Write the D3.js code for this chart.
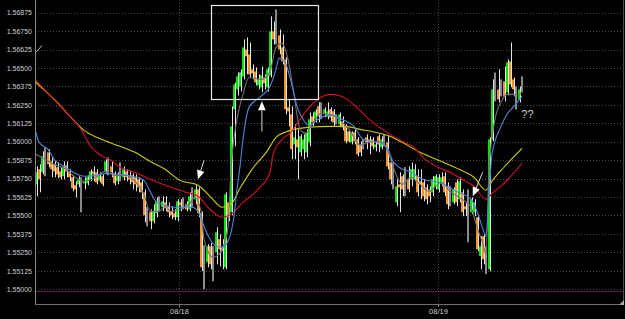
<!DOCTYPE html>
<html>
<head>
<meta charset="utf-8">
<script src="https://cdn.jsdelivr.net/npm/d3@7"></script>
<style>
  body { margin: 0; background: #000; }
  svg { display: block; }
</style>
</head>
<body>
<script>
// 15 min bars, index 0 = first bar on screen
const barOpen = [
  1.55711, 1.55813, 1.55793, 1.55874, 1.55928, 1.55867, 1.55847, 1.55827, 1.55799, 1.55766,
  1.55840, 1.55799, 1.55759, 1.55705, 1.55711, 1.55711, 1.55718, 1.55718, 1.55745, 1.55799,
  1.55793, 1.55738, 1.55766, 1.55793, 1.55847, 1.55833, 1.55786, 1.55732, 1.55772, 1.55759,
  1.55799, 1.55759, 1.55772, 1.55759, 1.55745, 1.55725, 1.55657, 1.55522, 1.55522, 1.55461,
  1.55515, 1.55583, 1.55556, 1.55589, 1.55562, 1.55528, 1.55515, 1.55488, 1.55589, 1.55569,
  1.55576, 1.55542, 1.55630, 1.55610, 1.55677, 1.55515, 1.55190, 1.55183, 1.55291, 1.55190,
  1.55251, 1.55339, 1.55285, 1.55149, 1.55589, 1.55522, 1.56220, 1.56355, 1.56375, 1.56443,
  1.56626, 1.56592, 1.56491, 1.56477, 1.56382, 1.56369, 1.56436, 1.56369, 1.56450, 1.56748,
  1.56701, 1.56721, 1.56640, 1.56558, 1.56233, 1.56186, 1.55982, 1.56016, 1.55928, 1.55949,
  1.55928, 1.55996, 1.56172, 1.56152, 1.56240, 1.56206, 1.56192, 1.56172, 1.56220, 1.56206,
  1.56165, 1.56118, 1.56138, 1.56104, 1.56070, 1.55996, 1.56064, 1.56016, 1.55982, 1.55982,
  1.56030, 1.56016, 1.56016, 1.55962, 1.56037, 1.55962, 1.56023, 1.55996, 1.55860, 1.55779,
  1.55589, 1.55711, 1.55766, 1.55779, 1.55745, 1.55745, 1.55745, 1.55766, 1.55732, 1.55725,
  1.55691, 1.55677, 1.55657, 1.55698, 1.55677, 1.55725, 1.55766, 1.55698, 1.55617, 1.55589,
  1.55725, 1.55610, 1.55657, 1.55562, 1.55535, 1.55522, 1.55522, 1.55488, 1.55224, 1.55359,
  1.55224, 1.55135, 1.56016, 1.56335, 1.56355, 1.56362, 1.56409, 1.56335, 1.56545, 1.56423,
  1.56341, 1.56287, 1.56416
];
const barHigh = [
  1.55833, 1.55847, 1.55935, 1.55962, 1.55949, 1.55894, 1.55867, 1.55860, 1.55827, 1.55867,
  1.55867, 1.55813, 1.55772, 1.55732, 1.55766, 1.55759, 1.55759, 1.55772, 1.55813, 1.55833,
  1.55813, 1.55793, 1.55779, 1.55881, 1.55894, 1.55867, 1.55799, 1.55793, 1.55860, 1.55833,
  1.55813, 1.55799, 1.55786, 1.55779, 1.55759, 1.55745, 1.55677, 1.55556, 1.55542, 1.55576,
  1.55623, 1.55630, 1.55630, 1.55630, 1.55589, 1.55562, 1.55542, 1.55610, 1.55610, 1.55623,
  1.55596, 1.55657, 1.55691, 1.55705, 1.55691, 1.55528, 1.55298, 1.55305, 1.55312, 1.55291,
  1.55420, 1.55373, 1.55339, 1.55657, 1.55610, 1.56240, 1.56402, 1.56470, 1.56491, 1.56694,
  1.56707, 1.56673, 1.56524, 1.56504, 1.56457, 1.56511, 1.56457, 1.56504, 1.56850, 1.56816,
  1.56897, 1.56762, 1.56728, 1.56572, 1.56287, 1.56240, 1.56118, 1.56084, 1.56050, 1.56050,
  1.56084, 1.56199, 1.56199, 1.56220, 1.56267, 1.56267, 1.56233, 1.56267, 1.56233, 1.56220,
  1.56186, 1.56199, 1.56172, 1.56118, 1.56084, 1.56070, 1.56084, 1.56030, 1.56003, 1.56016,
  1.56050, 1.56037, 1.56030, 1.56003, 1.56050, 1.56037, 1.56050, 1.56037, 1.55881, 1.55860,
  1.55745, 1.55793, 1.55779, 1.55827, 1.55833, 1.55860, 1.55847, 1.55813, 1.55813, 1.55745,
  1.55711, 1.55698, 1.55766, 1.55779, 1.55779, 1.55793, 1.55793, 1.55725, 1.55698, 1.55691,
  1.55745, 1.55759, 1.55677, 1.55589, 1.55677, 1.55623, 1.55610, 1.55508, 1.55359, 1.55373,
  1.55291, 1.56030, 1.56423, 1.56470, 1.56491, 1.56423, 1.56511, 1.56558, 1.56673, 1.56436,
  1.56375, 1.56375, 1.56443
];
const barLow = [
  1.55630, 1.55657, 1.55779, 1.55766, 1.55827, 1.55759, 1.55759, 1.55752, 1.55745, 1.55745,
  1.55759, 1.55732, 1.55664, 1.55623, 1.55691, 1.55522, 1.55677, 1.55705, 1.55732, 1.55732,
  1.55711, 1.55725, 1.55698, 1.55779, 1.55772, 1.55759, 1.55705, 1.55711, 1.55732, 1.55738,
  1.55732, 1.55711, 1.55677, 1.55664, 1.55657, 1.55610, 1.55454, 1.55427, 1.55407, 1.55447,
  1.55488, 1.55528, 1.55528, 1.55528, 1.55488, 1.55474, 1.55467, 1.55461, 1.55528, 1.55542,
  1.55528, 1.55528, 1.55556, 1.55576, 1.55488, 1.55122, 1.55000, 1.55149, 1.55135, 1.55054,
  1.55169, 1.55156, 1.55135, 1.55135, 1.55461, 1.55501, 1.55969, 1.56314, 1.56341, 1.56423,
  1.56457, 1.56436, 1.56423, 1.56382, 1.56355, 1.56335, 1.56355, 1.56341, 1.56436, 1.56660,
  1.56660, 1.56592, 1.56524, 1.56186, 1.56104, 1.55881, 1.55881, 1.55745, 1.55901, 1.55881,
  1.55894, 1.55969, 1.56104, 1.56131, 1.56131, 1.56152, 1.56165, 1.56152, 1.56138, 1.56104,
  1.56118, 1.56098, 1.56077, 1.55989, 1.55996, 1.55982, 1.55982, 1.55901, 1.55901, 1.55949,
  1.55949, 1.55915, 1.55949, 1.55935, 1.55928, 1.55949, 1.55969, 1.55813, 1.55711, 1.55677,
  1.55562, 1.55522, 1.55630, 1.55630, 1.55657, 1.55698, 1.55732, 1.55630, 1.55610, 1.55596,
  1.55576, 1.55589, 1.55630, 1.55677, 1.55657, 1.55698, 1.55630, 1.55542, 1.55562, 1.55576,
  1.55562, 1.55589, 1.55495, 1.55495, 1.55318, 1.55508, 1.55495, 1.55257, 1.55135, 1.55169,
  1.55102, 1.55122, 1.56003, 1.56274, 1.56267, 1.56308, 1.56274, 1.56314, 1.56369, 1.56308,
  1.56220, 1.56267, 1.56335
];
const barClose = [
  1.55793, 1.55745, 1.55901, 1.55874, 1.55847, 1.55813, 1.55799, 1.55779, 1.55759, 1.55833,
  1.55799, 1.55759, 1.55684, 1.55677, 1.55745, 1.55711, 1.55732, 1.55759, 1.55799, 1.55779,
  1.55725, 1.55772, 1.55711, 1.55867, 1.55847, 1.55793, 1.55718, 1.55766, 1.55772, 1.55813,
  1.55759, 1.55745, 1.55725, 1.55711, 1.55691, 1.55657, 1.55501, 1.55522, 1.55461, 1.55528,
  1.55596, 1.55583, 1.55596, 1.55549, 1.55522, 1.55501, 1.55488, 1.55596, 1.55569, 1.55569,
  1.55542, 1.55630, 1.55630, 1.55677, 1.55515, 1.55149, 1.55190, 1.55291, 1.55169, 1.55190,
  1.55386, 1.55271, 1.55257, 1.55644, 1.55488, 1.56104, 1.56389, 1.56443, 1.56470, 1.56640,
  1.56579, 1.56457, 1.56463, 1.56402, 1.56423, 1.56450, 1.56396, 1.56491, 1.56748, 1.56694,
  1.56701, 1.56626, 1.56545, 1.56220, 1.56206, 1.55949, 1.56030, 1.55962, 1.56037, 1.56016,
  1.56064, 1.56152, 1.56131, 1.56206, 1.56172, 1.56206, 1.56220, 1.56206, 1.56165, 1.56131,
  1.56165, 1.56186, 1.56098, 1.56003, 1.56003, 1.56064, 1.56003, 1.55915, 1.55928, 1.55982,
  1.55996, 1.55996, 1.55969, 1.55982, 1.55982, 1.56016, 1.56023, 1.55833, 1.55745, 1.55779,
  1.55698, 1.55691, 1.55677, 1.55779, 1.55677, 1.55813, 1.55813, 1.55657, 1.55711, 1.55630,
  1.55610, 1.55630, 1.55745, 1.55766, 1.55759, 1.55759, 1.55657, 1.55576, 1.55617, 1.55677,
  1.55589, 1.55732, 1.55522, 1.55542, 1.55535, 1.55610, 1.55589, 1.55271, 1.55291, 1.55203,
  1.55224, 1.56016, 1.56355, 1.56335, 1.56287, 1.56362, 1.56308, 1.56538, 1.56389, 1.56355,
  1.56341, 1.56355, 1.56416
];

// moving averages: [bar index, price]
const maGray = [
  [0, 1.55915], [3, 1.55881], [6, 1.55847], [10, 1.55813], [13, 1.55759], [16, 1.55732], [20, 1.55759],
  [23, 1.55799], [26, 1.55772], [30, 1.55772], [33, 1.55732], [36, 1.55644], [38, 1.55528], [41, 1.55528],
  [43, 1.55562], [45, 1.55528], [48, 1.55542], [51, 1.55576], [53, 1.55623], [55, 1.55528], [56, 1.55339],
  [59, 1.55217], [61, 1.55237], [62, 1.55271], [64, 1.55420], [65, 1.55813], [67, 1.56152], [69, 1.56321],
  [71, 1.56436], [75, 1.56423], [78, 1.56477], [80, 1.56640], [82, 1.56667], [84, 1.56558], [86, 1.56321],
  [88, 1.56084], [90, 1.56057], [92, 1.56118], [95, 1.56192], [98, 1.56186], [101, 1.56152], [105, 1.56064],
  [108, 1.55976], [111, 1.55996], [115, 1.56003], [117, 1.55949], [120, 1.55779], [122, 1.55711], [125, 1.55759],
  [128, 1.55711], [131, 1.55664], [135, 1.55725], [138, 1.55664], [141, 1.55623], [145, 1.55556], [147, 1.55420],
  [149, 1.55305], [150, 1.55237], [151, 1.55813], [153, 1.56152], [155, 1.56267], [157, 1.56321], [159, 1.56321],
  [161, 1.56308], [162, 1.56355]
];
const maBlue = [
  [0, 1.56064], [1, 1.55996], [4, 1.55949], [6, 1.55881], [10, 1.55827], [13, 1.55786], [16, 1.55766],
  [20, 1.55772], [24, 1.55786], [28, 1.55779], [32, 1.55766], [36, 1.55738], [38, 1.55664], [40, 1.55596],
  [43, 1.55569], [46, 1.55556], [50, 1.55556], [52, 1.55556], [54, 1.55528], [56, 1.55427], [58, 1.55339],
  [60, 1.55291], [62, 1.55285], [64, 1.55325], [66, 1.55495], [67, 1.55677], [68, 1.55833], [69, 1.56016],
  [71, 1.56233], [75, 1.56308], [78, 1.56375], [80, 1.56491], [81, 1.56565], [83, 1.56538], [85, 1.56409],
  [87, 1.56240], [89, 1.56152], [91, 1.56111], [94, 1.56152], [96, 1.56172], [99, 1.56179], [102, 1.56152],
  [106, 1.56104], [109, 1.56016], [112, 1.56003], [115, 1.55989], [117, 1.55962], [119, 1.55867], [121, 1.55827],
  [125, 1.55793], [129, 1.55745], [134, 1.55725], [137, 1.55698], [140, 1.55664], [145, 1.55610], [147, 1.55528],
  [149, 1.55407], [150, 1.55359], [151, 1.55644], [152, 1.55915], [155, 1.56104], [157, 1.56186], [159, 1.56233],
  [162, 1.56308]
];
const maRed = [
  [0, 1.56416], [5, 1.56308], [10, 1.56199], [15, 1.56084], [18, 1.55976], [21, 1.55915], [25, 1.55874],
  [28, 1.55827], [33, 1.55793], [38, 1.55745], [45, 1.55691], [50, 1.55657], [54, 1.55630], [58, 1.55542],
  [62, 1.55488], [65, 1.55508], [69, 1.55589], [74, 1.55677], [78, 1.55793], [79, 1.55915], [82, 1.56016],
  [85, 1.56064], [88, 1.56152], [91, 1.56233], [95, 1.56301], [98, 1.56321], [101, 1.56314], [107, 1.56233],
  [110, 1.56172], [114, 1.56104], [118, 1.56050], [122, 1.56003], [126, 1.55962], [129, 1.55894], [134, 1.55827],
  [138, 1.55793], [142, 1.55745], [146, 1.55698], [150, 1.55610], [152, 1.55650], [156, 1.55718], [162, 1.55854]
];
const maYellow = [
  [0, 1.56402], [5, 1.56308], [8, 1.56247], [11, 1.56179], [16, 1.56077], [21, 1.56023], [28, 1.55969],
  [33, 1.55928], [38, 1.55867], [43, 1.55813], [48, 1.55738], [54, 1.55705], [58, 1.55630], [62, 1.55556],
  [65, 1.55576], [68, 1.55684], [72, 1.55813], [77, 1.55935], [80, 1.56030], [83, 1.56064], [86, 1.56084],
  [91, 1.56098], [98, 1.56104], [103, 1.56104], [108, 1.56084], [113, 1.56064], [118, 1.56037], [122, 1.55996],
  [128, 1.55928], [135, 1.55867], [141, 1.55813], [146, 1.55759], [150, 1.55671], [152, 1.55732], [156, 1.55827],
  [162, 1.55955]
];

const yTicks = [1.55000, 1.55125, 1.55250, 1.55375, 1.55500, 1.55625, 1.55750, 1.55875,
  1.56000, 1.56125, 1.56250, 1.56375, 1.56500, 1.56625, 1.56750, 1.56875];
const dayIndex = [47.67, 134];
const dayLabels = ["08/18", "08/19"];
const floorLevel = 1.54989;

// drawn-on annotations, [bar index, price]
const arrows = [
  { from: [56, 1.55874], to: [54, 1.55745] },
  { from: [75.3, 1.56070], to: [75.3, 1.56274] },
  { from: [148.9, 1.55793], to: [145.6, 1.55630] }
];
const boxCorners = [[58.4, 1.56924], [94.1, 1.56287]];
const slash = [[0, 1.56606], [2, 1.56653]];
const noteText = { at: [163.8, 1.56179], text: "??" };

const W = 625, H = 319;
const left = 35, right = 623, bottom = 304;
const font = "'Liberation Sans', Arial, sans-serif";

const svg = d3.select("body")
    .append("svg")
    .attr("width", W)
    .attr("height", H)
    .style("background", "#000");

const x = d3.scaleLinear().domain([0, 162]).range([36, 522]);
const y = d3.scaleLinear().domain([1.55, 1.56875]).range([289.2, 12.7]);

svg.append("defs").append("clipPath")
    .attr("id", "plotClip")
    .append("rect")
    .attr("x", left + 1).attr("y", 0)
    .attr("width", right - left - 1).attr("height", bottom);

// grid
svg.append("g")
    .selectAll("line")
    .data(yTicks)
    .enter()
    .append("line")
    .attr("x1", left).attr("x2", right)
    .attr("y1", d => Math.round(y(d)) + 0.5)
    .attr("y2", d => Math.round(y(d)) + 0.5)
    .attr("stroke", "#4b4b4b")
    .attr("stroke-dasharray", "1,2");

svg.append("g")
    .selectAll("line")
    .data(dayIndex)
    .enter()
    .append("line")
    .attr("x1", d => Math.round(x(d)) + 0.5)
    .attr("x2", d => Math.round(x(d)) + 0.5)
    .attr("y1", 0).attr("y2", bottom)
    .attr("stroke", "#4b4b4b")
    .attr("stroke-dasharray", "1,2");

svg.append("line")
    .attr("x1", left).attr("x2", right)
    .attr("y1", Math.round(y(floorLevel)) + 0.5)
    .attr("y2", Math.round(y(floorLevel)) + 0.5)
    .attr("stroke", "#5e1a50");

// y axis labels
const yAxis = svg.append("g")
    .attr("transform", `translate(${left},0)`)
    .call(d3.axisLeft(y).tickValues(yTicks).tickFormat(d3.format(".5f")).tickSize(0).tickPadding(3));
yAxis.select(".domain").remove();
yAxis.selectAll("text")
    .attr("fill", "#cfcfcf")
    .style("font-family", font)
    .style("font-size", "7px");

// x axis
const xAxis = svg.append("g")
    .attr("transform", `translate(0,${bottom})`)
    .call(d3.axisBottom(x).tickValues(dayIndex).tickFormat((d, i) => dayLabels[i]).tickSize(3).tickPadding(2));
xAxis.select(".domain").remove();
xAxis.selectAll("line").attr("stroke", "#888");
xAxis.selectAll("text")
    .attr("fill", "#cfcfcf")
    .style("font-family", font)
    .style("font-size", "7.5px");

// frame
svg.append("line").attr("x1", left + 0.5).attr("x2", left + 0.5).attr("y1", 0).attr("y2", bottom + 1).attr("stroke", "#8a8a8a");
svg.append("line").attr("x1", left).attr("x2", right + 1).attr("y1", bottom + 0.5).attr("y2", bottom + 0.5).attr("stroke", "#6e6e6e");
svg.append("line").attr("x1", right + 0.5).attr("x2", right + 0.5).attr("y1", 0).attr("y2", bottom + 1).attr("stroke", "#4a4a4a");
svg.append("path").attr("d", `M${right + 1},${bottom - 4}L${right + 1},${bottom + 1}L${right - 4},${bottom + 1}Z`).attr("fill", "#aaa");

// candles
const bars = barOpen.map((o, i) => ({ i: i, o: o, h: barHigh[i], l: barLow[i], c: barClose[i] }));
const plot = svg.append("g").attr("clip-path", "url(#plotClip)");

plot.append("g")
    .selectAll("rect")
    .data(bars.filter(d => d.o !== d.c))
    .enter()
    .append("rect")
    .attr("x", d => Math.round(x(d.i)) + 1)
    .attr("width", 1)
    .attr("y", d => y(d.h))
    .attr("height", d => y(d.l) - y(d.h))
    .attr("fill", "#e4e4e4");

plot.append("g")
    .selectAll("rect")
    .data(bars)
    .enter()
    .append("rect")
    .attr("x", d => Math.round(x(d.i)) - 1)
    .attr("width", 2)
    .attr("y", d => d.o === d.c ? y(d.h) : y(Math.max(d.o, d.c)))
    .attr("height", d => d.o === d.c ? y(d.l) - y(d.h) : Math.max(1, Math.abs(y(d.o) - y(d.c))))
    .attr("fill", d => d.c > d.o ? "#00e400" : (d.c < d.o ? "#f39325" : "#8a8a8a"));

// moving averages
const maLine = d3.line()
    .x(d => x(d[0]))
    .y(d => y(d[1]))
    .curve(d3.curveMonotoneX);

[[maYellow, "#cccc10"], [maRed, "#d4102c"], [maGray, "#6f6f6f"], [maBlue, "#4f86dc"]].forEach(([pts, col]) => {
    plot.append("path")
        .attr("d", maLine(pts))
        .attr("fill", "none")
        .attr("stroke", col)
        .attr("stroke-width", 1.1);
});

// annotations
svg.append("rect")
    .attr("x", Math.round(x(boxCorners[0][0])) + 0.5)
    .attr("y", Math.round(y(boxCorners[0][1])) + 0.5)
    .attr("width", Math.round(x(boxCorners[1][0]) - x(boxCorners[0][0])))
    .attr("height", Math.round(y(boxCorners[1][1]) - y(boxCorners[0][1])))
    .attr("fill", "none")
    .attr("stroke", "#e8e8e8")
    .attr("stroke-width", 1.2);

arrows.forEach(a => {
    const x1 = x(a.from[0]), y1 = y(a.from[1]), x2 = x(a.to[0]), y2 = y(a.to[1]);
    const len = Math.hypot(x2 - x1, y2 - y1);
    const ux = (x2 - x1) / len, uy = (y2 - y1) / len;
    const hl = 9, hw = 3.8;
    const bx = x2 - ux * hl, by = y2 - uy * hl;
    svg.append("line")
        .attr("x1", x1).attr("y1", y1)
        .attr("x2", bx).attr("y2", by)
        .attr("stroke", "#d8d8d8")
        .attr("stroke-width", 1);
    svg.append("path")
        .attr("d", `M${x2},${y2}L${bx - uy * hw},${by + ux * hw}L${bx + uy * hw},${by - ux * hw}Z`)
        .attr("fill", "#fff");
});

svg.append("line")
    .attr("x1", x(slash[0][0])).attr("y1", y(slash[0][1]))
    .attr("x2", x(slash[1][0])).attr("y2", y(slash[1][1]))
    .attr("stroke", "#bbb")
    .attr("stroke-width", 1);

svg.append("text")
    .attr("x", x(noteText.at[0]))
    .attr("y", y(noteText.at[1]))
    .attr("text-anchor", "middle")
    .attr("dominant-baseline", "middle")
    .attr("fill", "#d0d0d0")
    .style("font-family", font)
    .style("font-size", "11px")
    .text(noteText.text);
</script>
</body>
</html>
